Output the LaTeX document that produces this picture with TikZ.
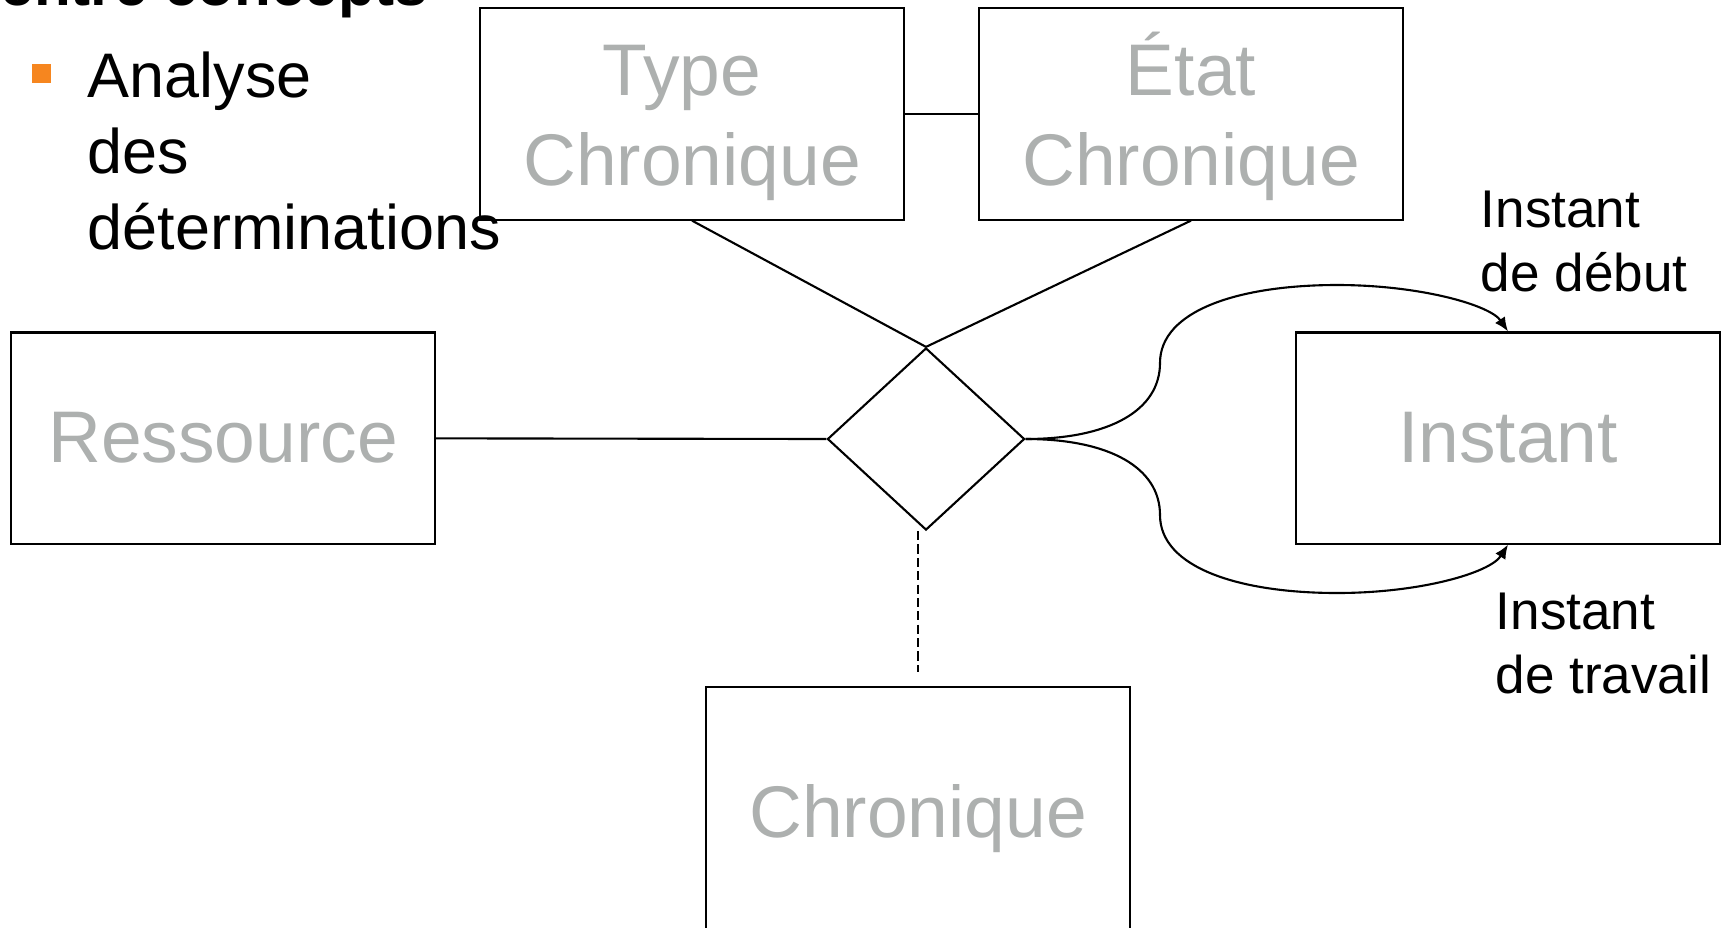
\documentclass[tikz,border=0pt]{standalone}
\usepackage{fontspec}
\setmainfont{Liberation Sans}
\usetikzlibrary{calc,arrows.meta}
\usetikzlibrary{shapes.geometric}
\definecolor{conceptgray}{RGB}{173,176,175}
\definecolor{puceorange}{RGB}{246,134,31}
\tikzset{
    concept/.style={draw, rectangle, line width=0.6pt, minimum width=4.23cm, minimum height=2.11cm, inner sep=0pt}, % boxes of the concepts
    concepttext/.style={text=conceptgray, font=\fontsize{20.8}{25.6}\selectfont, align=center},
    relation/.style={draw, diamond, line width=0.6pt, minimum width=1.97cm, minimum height=1.82cm, inner sep=0pt},
    rolelabel/.style={font=\fontsize{15.1}{18}\selectfont, align=left, anchor=base west, inner sep=0pt}, % anchored on the last line
    link/.style={line width=0.6pt},
    role/.style={line width=0.6pt, -{Latex[length=4pt,width=3.4pt]}},
}

\begin{document}
\begin{tikzpicture}[x=0.01cm, y=-0.01cm]
  \useasboundingbox (0,0) rectangle (1727,927);

  % text of the slide
  \node[anchor=base west, inner sep=0pt, font=\fontsize{17.1}{20}\selectfont\bfseries] (titre) at (0,5) {entre concepts};
  \node[fill=puceorange, minimum size=0.19cm, inner sep=0pt] (puce) at (41.5,73.5) {};
  \node[anchor=base west, align=left, inner sep=0pt, font=\fontsize{17.9}{21.6}\selectfont] (analyse) at (87,249) {Analyse\\des\\déterminations};

  \node[concept, label={[concepttext,yshift=-0.02cm]center:{\vphantom{É}Type\hphantom{\ }\\Chronique}}] (typ) at (692,114) {};
  \node[concept, label={[concepttext,yshift=-0.02cm]center:{État\\Chronique}}] (etat) at (1191,114) {};
  \node[concept, concepttext] (res) at (223,438) {Ressource};
  \node[concept, concepttext] (inst) at (1508,438) {Instant};
  \node[concept, concepttext, minimum height=2.63cm] (chron) at (918,819) {Chronique};
  \node[relation] (rel) at (926,439) {};

  \node[rolelabel] (debut) at (1480,291) {Instant\\de début};
  \node[rolelabel] (travail) at (1495,693) {Instant\\de travail};

  \path[link]
    (typ) edge (etat)
    (typ.south) edge (rel.north)
    (etat.south) edge (rel.north)
    (res) edge (rel.west);
  \draw[link, dash pattern=on 2.6pt off 1.2pt] (rel.south -| chron.north) -- ($(chron.north)+(0,-14)$);

  % the two roles of Instant
  \draw[role] (rel.east) .. controls (1110,439) and (1160,410) .. (1160,363)
    .. controls (1160,310) and (1240,285) .. (1337,285)
    .. controls (1420,285) and (1490,305) .. (inst.north);
  \draw[role] (rel.east) .. controls (1110,439) and (1160,468) .. (1160,515)
    .. controls (1160,568) and (1240,593) .. (1337,593)
    .. controls (1420,593) and (1490,573) .. (inst.south);
\end{tikzpicture}
\end{document}
